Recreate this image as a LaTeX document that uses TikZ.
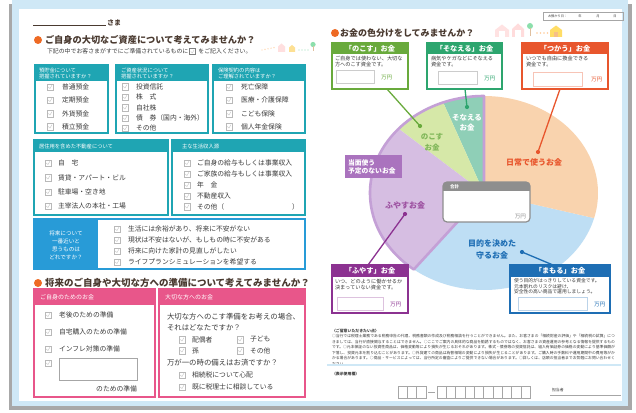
\documentclass[tikz,border=0pt]{standalone}
\usepackage{fontspec}
\setmainfont{Noto Sans CJK JP}
\XeTeXlinebreaklocale "ja"
\XeTeXlinebreakskip=0pt plus 1pt
\usetikzlibrary{calc}
\definecolor{frameblue}{HTML}{CFE8F6}
\definecolor{shadowgray}{HTML}{A8A8A8}
\definecolor{ctitle}{HTML}{4A3A30}
\definecolor{ctext}{HTML}{3A3A3A}
\definecolor{corange}{HTML}{EE6A24}
\definecolor{cteal}{HTML}{1FA5B3}
\definecolor{cblue}{HTML}{289BD7}
\definecolor{cpink}{HTML}{E8568A}
\definecolor{cgreen}{HTML}{69AA3C}
\definecolor{cmint}{HTML}{2DA56E}
\definecolor{cred}{HTML}{E8562D}
\definecolor{cpurple}{HTML}{8C3291}
\definecolor{cnavy}{HTML}{1E6EB4}
\definecolor{cgray}{HTML}{8E8E8E}
\definecolor{pieorange}{HTML}{F9D3AE}
\definecolor{pieblue}{HTML}{BEDEF4}
\definecolor{piepurple}{HTML}{D6BEE2}
\definecolor{piegreen}{HTML}{D6E8A8}
\definecolor{piemint}{HTML}{8FCFB7}
\definecolor{pieline}{HTML}{C4A0D6}
\definecolor{labpurple}{HTML}{AA73BE}
\newcommand\fsz[2]{\fontsize{#1}{#2}\selectfont}
\newcommand\ckitem[5]{\node[cbox] (#1) at (#2,#3) {};\node[itm] (#1t) at (#4,#3) {#5};}
\tikzset{
  every node/.style={inner sep=0pt, outer sep=0pt},
  cbox/.style={draw=gray!55, line width=0.5pt, fill=white, minimum size=6.5pt,
    path picture={\draw[gray!45, line width=0.4pt]
      ([xshift=1.4pt]path picture bounding box.west) --
      ([yshift=-1.5pt]path picture bounding box.center) --
      ([xshift=-1.3pt,yshift=-1.4pt]path picture bounding box.north east);}},
  itm/.style={anchor=west, font=\fsz{6.8}{8}, text=ctext},
  hdr/.style={anchor=west, font=\fsz{5.3}{6.3}, text=white, align=left},
  ttl/.style={anchor=west, font=\bfseries\fsz{9.2}{11}, text=ctitle},
  tdot/.style={circle, fill=corange, minimum size=8pt},
  cdot/.style={circle, minimum size=4.2pt},
  tealbox/.style={draw=cteal, line width=1.6pt, fill=white},
  pinkbox/.style={draw=cpink, line width=1.6pt, fill=white},
  rhead/.style={font=\bfseries\fsz{7.2}{8}, text=white},
  rbody/.style={anchor=north west, font=\fsz{5.2}{6.6}, text=ctext, align=left},
  pielab/.style={font=\bfseries\fsz{8}{10}},
  conn/.style={line width=1.3pt},
}
\begin{document}
\begin{tikzpicture}[x=1pt,y=-1pt]
\useasboundingbox (0,0) rectangle (636,412);
\fill[white] (0,0) rectangle (636,412);
% frame
\fill[shadowgray] (9,4) rectangle (632,410);
\fill[frameblue] (12,0) rectangle (628,406);
\fill[white] (19,9) rectangle (622,401);

% ---------- left page ----------
\draw[ctitle, line width=0.6pt] (33,25) -- (106,25);
\node[anchor=west, font=\bfseries\fsz{7}{8}, text=ctitle] (sama) at (107,22.5) {さま};

\node[tdot] (dot1) at (38,40) {};
\node[ttl] (title1) at (45,40) {ご自身の大切なご資産について考えてみませんか？};
\node[anchor=west, font=\fsz{5.9}{7}, text=ctext] (sub1) at (47,51.5) {下記の中でお客さまがすでにご準備されているものに};
\node[cbox, minimum size=6pt, draw=gray] (subck) at ([xshift=4pt]sub1.east) {};
\node[anchor=west, font=\fsz{5.9}{7}, text=ctext] (sub2) at ([xshift=3pt]subck.east) {をご記入ください。};
% decorations near title 1
\foreach \i in {0,...,4} {\fill[orange!35] (262+\i*3,50-\i*0.6) circle (0.7);}
\fill[pink!50] (278,52) -- (278,46.5) -- (281.5,43.5) -- (285,46.5) -- (285,52) -- cycle;
\fill[yellow!45!orange!40] (289,52) -- (289,47.5) -- (292,45) -- (295,47.5) -- (295,52) -- cycle;
\foreach \i in {0,...,3} {\fill[green!40!teal!40] (299+\i*3,50) circle (0.7);}
\fill[green!45!teal!45] (313,44.5) circle (2.6);
\fill[brown!50] (312.5,46.5) rectangle (313.5,51);

% row 1 boxes
\draw[tealbox] (35,65) rectangle (108,133);
\fill[cteal] (35,65) rectangle (108,81);
\node[hdr] (hA) at (39,73.5) {預貯金について\\把握されていますか？};
\ckitem{a1}{50}{87}{62}{普通預金}
\ckitem{a2}{50}{100}{62}{定期預金}
\ckitem{a3}{50}{113.5}{62}{外貨預金}
\ckitem{a4}{50}{126.5}{62}{積立預金}

\draw[tealbox] (116,65) rectangle (208,133);
\fill[cteal] (116,65) rectangle (208,81);
\node[hdr] (hB) at (121,73.5) {ご資産状況について\\把握されていますか？};
\ckitem{b1}{125}{86.5}{136}{投資信託}
\ckitem{b2}{125}{97}{136}{株\hspace{1em}式}
\ckitem{b3}{125}{107.5}{136}{自社株}
\ckitem{b4}{125}{118}{136}{債\hspace{1em}券（国内・海外）}
\ckitem{b5}{125}{128.2}{136}{その他}

\draw[tealbox] (213,65) rectangle (305,133);
\fill[cteal] (213,65) rectangle (305,81);
\node[hdr] (hC) at (218,73.5) {保険契約の内容は\\ご理解されていますか？};
\ckitem{c1}{229}{87}{241}{死亡保障}
\ckitem{c2}{229}{100}{241}{医療・介護保障}
\ckitem{c3}{229}{113.5}{241}{こども保険}
\ckitem{c4}{229}{126.5}{241}{個人年金保険}

% row 2
\draw[tealbox] (34,140) rectangle (168,215);
\fill[cteal] (34,140) rectangle (168,152);
\node[hdr] (hD) at (39,146) {居住用を含めた不動産について};
\ckitem{d1}{48}{163}{58}{自\hspace{1em}宅}
\ckitem{d2}{48}{177.5}{58}{賃貸・アパート・ビル}
\ckitem{d3}{48}{192}{58}{駐車場・空き地}
\ckitem{d4}{48}{206}{58}{主宰法人の本社・工場}

\draw[tealbox] (172,140) rectangle (305,215);
\fill[cteal] (172,140) rectangle (305,152);
\node[hdr] (hE) at (182,146) {主な生活収入源};
\ckitem{e1}{187}{163}{197}{ご自身の給与もしくは事業収入}
\ckitem{e2}{187}{174}{197}{ご家族の給与もしくは事業収入}
\ckitem{e3}{187}{185}{197}{年\hspace{1em}金}
\ckitem{e4}{187}{196}{197}{不動産収入}
\ckitem{e5}{187}{206.5}{197}{その他（}
\node[itm] (e5b) at (292,206.5) {）};

% row 3
\draw[draw=cblue, line width=1.6pt, fill=white] (34,219) rectangle (305,269);
\fill[cblue] (34,219) rectangle (98,269);
\node[font=\fsz{5.6}{8}, text=white, align=center] (hF) at (66,245) {将来について\\一番近いと\\思うものは\\どれですか？};
\ckitem{f1}{117}{229}{128}{生活には余裕があり、将来に不安がない}
\ckitem{f2}{117}{240}{128}{現状は不安はないが、もしもの時に不安がある}
\ckitem{f3}{117}{251}{128}{将来に向けた家計の見直しがしたい}
\ckitem{f4}{117}{262}{128}{ライフプランシミュレーションを希望する}

% section 2
\node[tdot] (dot2) at (38,283) {};
\node[ttl, font=\bfseries\fsz{9.5}{11}] (title2) at (45,283) {将来のご自身や大切な方への準備について考えてみませんか？};

\draw[pinkbox] (34,289) rectangle (155,397);
\fill[cpink] (34,289) rectangle (155,305);
\node[hdr, font=\fsz{6}{7}] (hG) at (40,297) {ご自身のためのお金};
\ckitem{g1}{48}{315}{59}{老後のための準備}
\ckitem{g2}{48}{332}{59}{自宅購入のための準備}
\ckitem{g3}{48}{349}{59}{インフレ対策の準備}
\node[cbox] (g4) at (48,363) {};
\node[draw=gray!70, line width=0.6pt, minimum width=78pt, minimum height=22pt, anchor=north west] (gfield) at (59,358) {};
\node[itm, anchor=east] (g4t) at (137,389) {のための準備};

\draw[pinkbox] (159,289) rectangle (305,397);
\fill[cpink] (159,289) rectangle (305,305);
\node[hdr, font=\fsz{6}{7}] (hH) at (165,297) {大切な方へのお金};
\node[itm, font=\fsz{7.4}{9}] (hq1) at (167,317) {大切な方へのこす準備をお考えの場合、};
\node[itm, font=\fsz{7.4}{9}] (hq2) at (167,328) {それはどなたですか？};
\ckitem{h1}{182}{339.5}{192}{配偶者}
\ckitem{h2}{240}{339.5}{250}{子ども}
\ckitem{h3}{182}{350.5}{192}{孫}
\ckitem{h4}{240}{350.5}{250}{その他}
\node[itm, font=\fsz{7.4}{9}] (hq3) at (167,363) {万が一の時の備えはお済ですか？};
\ckitem{h5}{182}{375}{192}{相続税について心配}
\ckitem{h6}{182}{387}{192}{既に税理士に相談している}

% ---------- right page ----------
\draw[gray!70, line width=0.6pt] (543,12) rectangle (623,20);
\node[anchor=west, font=\fsz{3.2}{4}, text=ctext] (dlab) at (548,16) {お預かり日：};
\node[font=\fsz{3.2}{4}, text=ctext] (dy) at (580,16) {年};
\node[font=\fsz{3.2}{4}, text=ctext] (dm) at (598,16) {月};
\node[font=\fsz{3.2}{4}, text=ctext] (dd) at (615,16) {日};

\node[tdot] (dot3) at (335,33) {};
\node[ttl, font=\bfseries\fsz{9}{11}] (title3) at (340,33) {お金の色分けをしてみませんか？};
% decorations near title 3
\fill[pink!45] (495,37) -- (495,30) -- (502,24.5) -- (509,30) -- (509,37) -- cycle;
\fill[white] (499,31) rectangle (505,37);
\fill[pink!55] (512,37) -- (512,29) -- (518,23.5) -- (524,29) -- (524,37) -- cycle;
\fill[white] (515,30) rectangle (521,37);
\fill[green!45!teal!45] (530,26) circle (3);
\fill[brown!50] (529.5,28) rectangle (530.5,36);
\foreach \i in {0,...,3} {\fill[orange!40] (537+\i*3.5,33) circle (0.8);}
\fill[orange!45!yellow!60] (550,37) -- (550,30) -- (556,25.5) -- (562,30) -- (562,37) -- cycle;
\fill[orange!70!brown!50] (554,32) rectangle (558,37);

% pie
\coordinate (pc) at (484,193);
\fill[piemint] (pc) -- plot[domain=90:111, samples=20] ({484+114*cos(\x)},{193-97*sin(\x)}) -- cycle;
\fill[piegreen] (pc) -- plot[domain=111:138.5, samples=20] ({484+114*cos(\x)},{193-97*sin(\x)}) -- cycle;
\fill[piepurple] (pc) -- plot[domain=138.5:232, samples=50] ({484+114*cos(\x)},{193-97*sin(\x)}) -- cycle;
\fill[pieblue] (pc) -- plot[domain=232:345, samples=60] ({484+114*cos(\x)},{193-97*sin(\x)}) -- cycle;
\fill[pieorange] (pc) -- plot[domain=345:450, samples=60] ({484+114*cos(\x)},{193-97*sin(\x)}) -- cycle;
\draw[pieline, line width=2.6pt, line join=round] (pc) -- plot[domain=90:232, samples=70] ({484+114*cos(\x)},{193-97*sin(\x)}) -- cycle;

% pie labels
\node[pielab, font=\bfseries\fsz{7.5}{9}, text=white] (lsonae1) at (467,118) {そなえる};
\node[pielab, font=\bfseries\fsz{7.5}{9}, text=white] (lsonae2) at (467,128) {お金};
\node[pielab, font=\bfseries\fsz{7.5}{9}, text=cgreen!85] (lnoko1) at (432,137) {のこす};
\node[pielab, font=\bfseries\fsz{7.5}{9}, text=cgreen!85] (lnoko2) at (432,148) {お金};
\node[fill=labpurple, minimum width=57pt, minimum height=23pt, anchor=north west] (ltoumen) at (345,155) {};
\node[anchor=west, font=\bfseries\fsz{6.8}{8}, text=white, align=left] (ltoumentxt) at (348,166.5) {当面使う\\予定のないお金};
\node[pielab, text=cpurple!85] (lfuyasu) at (405,205) {ふやすお金};
\node[pielab, text=cred] (lnichijo) at (534,162) {日常で使うお金};
\node[pielab, text=cnavy] (lmamoru1) at (492,243) {目的を決めた};
\node[pielab, text=cnavy] (lmamoru2) at (492,255) {守るお金};

% total box
\begin{scope}
\clip[rounded corners=4pt] (443,182) rectangle (530,222);
\fill[white] (443,182) rectangle (530,222);
\fill[cgray] (443,182) rectangle (530,191);
\end{scope}
\draw[cgray, line width=1.2pt, rounded corners=4pt] (443,182) rectangle (530,222);
\node[anchor=west, font=\bfseries\fsz{4.5}{5}, text=white] (gokei) at (450,186.5) {合計};
\node[anchor=east, font=\fsz{5.6}{6}, text=cgray] (gokeiyen) at (526,216.5) {万円};

% のこす box
\draw[draw=cgreen, line width=1.3pt, fill=white] (332,43) rectangle (408,89);
\fill[cgreen] (332,43) rectangle (408,54);
\node[rhead] (hnokosu) at (370,48.5) {「のこす」お金};
\node[rbody] (bnokosu) at (335,56) {ご自身では使わない、大切な\\方へのこす資金です。};
\draw[gray!40, line width=0.7pt] (336,70) rectangle (374,83);
\node[anchor=west, font=\fsz{5.6}{6}, text=cgreen] (ynokosu) at (381,78) {万円};
% そなえる box
\draw[draw=cmint, line width=1.3pt, fill=white] (427,43) rectangle (502,89);
\fill[cmint] (427,43) rectangle (502,54);
\node[rhead] (hsonae) at (464.5,48.5) {「そなえる」お金};
\node[rbody] (bsonae) at (431,56) {病気やケガなどにそなえる\\資金です。};
\draw[gray!40, line width=0.7pt] (438,71) rectangle (477,84);
\node[anchor=west, font=\fsz{5.6}{6}, text=cmint] (ysonae) at (484,79) {万円};
% つかう box
\draw[draw=cred, line width=1.3pt, fill=white] (522,43) rectangle (608,89);
\fill[cred] (522,43) rectangle (608,54);
\node[rhead] (htsukau) at (565,48.5) {「つかう」お金};
\node[rbody] (btsukau) at (526,56) {いつでも自由に換金できる\\資金です。};
\draw[cred!35, line width=0.7pt] (533,72) rectangle (582,86);
\node[anchor=west, font=\fsz{5.6}{6}, text=cred] (ytsukau) at (591,80) {万円};
% ふやす box
\draw[draw=cpurple, line width=1.3pt, fill=white] (332,265) rectangle (408,313);
\fill[cpurple] (332,265) rectangle (408,277);
\node[rhead] (hfuyasu) at (370,271) {「ふやす」お金};
\node[rbody] (bfuyasu) at (335,279) {いつ、どのように働かせるか\\決まっていない資金です。};
\draw[cpurple!30, line width=0.7pt] (337,297) rectangle (383,310);
\node[anchor=west, font=\fsz{5.6}{6}, text=cpurple] (yfuyasu) at (390,305) {万円};
% まもる box
\draw[draw=cnavy, line width=1.3pt, fill=white] (510,265) rectangle (610,313);
\fill[cnavy] (510,265) rectangle (610,277);
\node[rhead] (hmamoru) at (560,271) {「まもる」お金};
\node[rbody, font=\fsz{4.8}{5.6}] (bmamoru) at (514,278.5) {使う目的がはっきりしている資金です。\\元本割れのリスクは避け、\\安全性の高い商品で運用しましょう。};
\draw[cnavy!30, line width=0.7pt] (518,297) rectangle (587,310);
\node[anchor=west, font=\fsz{5.6}{6}, text=cnavy] (ymamoru) at (594,305) {万円};

% connectors
\coordinate (anokosu) at (387,89);
\coordinate (asonae) at (465,89);
\coordinate (atsukau) at (560,89);
\coordinate (afuyasu) at (368,265);
\coordinate (amamoru) at (553,265);
\node[cdot, fill=cgreen] (dnokosu) at (420,126) {};
\node[cdot, fill=cmint] (dsonae) at (467,107) {};
\node[cdot, fill=cred] (dtsukau) at (538,152) {};
\node[cdot, fill=cpurple] (dfuyasu) at (405,214) {};
\node[cdot, fill=cnavy] (dmamoru) at (522,252) {};
\draw[conn, cgreen] (anokosu) -- (dnokosu.center);
\draw[conn, cmint] (asonae) -- (dsonae.center);
\draw[conn, cred] (atsukau) -- (dtsukau.center);
\draw[conn, cpurple] (dfuyasu.center) -- (afuyasu);
\draw[conn, cnavy] (dmamoru.center) -- (amamoru);

% notes
\node[anchor=west, font=\bfseries\fsz{3.9}{5}, text=ctext] (notehead) at (332,331) {〈ご留意いただきたい点〉};
\node[anchor=north west, text width=283pt, align=justify, font=\fsz{3.8}{5.5}, text=ctext] (notes) at (332,334.3) {○当行では税理士業務である税務申告の代理、税務書類の作成及び税務相談を行うことができません。また、お客さまの「相続財産の評価」や「相続税の試算」につきましては、当行が直接関与することはできません。○ここでご案内の具体的な商品を勧誘するものではなく、お客さまの資産運用の参考となる情報を提供するものです。○元本保証のない投資性商品は、価格変動等により損失が生じるおそれがあります。株式・債券等の投資信託は、組入有価証券の価格の変動により基準価額が下落し、投資元本を割り込むことがあります。○外貨建ての商品は為替相場の変動により損失が生じることがあります。ご購入時の手数料や運用期間中の費用等がかかる場合があります。○商品・サービスによっては、当行所定の審査によりご提供できない場合があります。○詳しくは、店頭の担当者までお気軽にお問い合わせください。};
\draw[frameblue, line width=1.3pt] (327,365) -- (621,365);
\node[anchor=west, font=\bfseries\fsz{3.9}{5}, text=ctext] (hyouji) at (332,374) {（表示使用欄）};
\foreach \i in {0,1,2} {\node[draw=gray!70, line width=0.6pt, minimum width=9.33pt, minimum height=12pt, anchor=north west] (pa\i) at (398+\i*9.33,386) {};}
\draw[gray!70, line width=0.7pt] (428,392) -- (435,392);
\foreach \i in {0,...,9} {\node[draw=gray!70, line width=0.6pt, minimum width=9.33pt, minimum height=12pt, anchor=north west] (pb\i) at (437+\i*9.33,386) {};}
\node[anchor=west, font=\fsz{3.9}{5}, text=ctext] (tantou) at (552,390.5) {担当者};
\draw[gray!70, line width=0.6pt] (550,395) -- (621,395);
\end{tikzpicture}
\end{document}
